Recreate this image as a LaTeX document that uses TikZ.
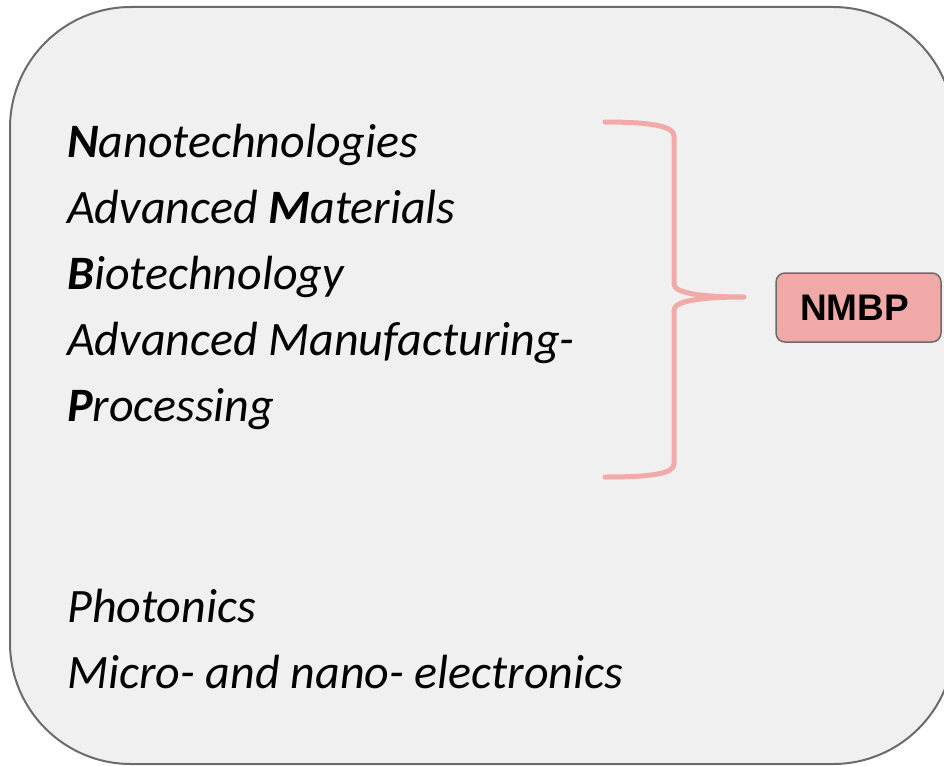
\documentclass[tikz,border=0pt]{standalone}
\usepackage{fontspec}
\setmainfont{Carlito}
\newfontfamily\labelfont{Liberation Sans}
\definecolor{panelfill}{HTML}{F0F0F0}
\definecolor{paneledge}{HTML}{6B6B6B}
\definecolor{bracepink}{HTML}{F2AAA9}
\definecolor{tagfill}{HTML}{F1A9A8}
\begin{document}
\begin{tikzpicture}[x=1pt,y=-1pt,
  item/.style={anchor=base west,inner sep=0pt,font=\fontsize{48}{56}\selectfont\itshape},
  bracestroke/.style={draw=bracepink,line width=5pt,line cap=round,line join=round},
  tagbox/.style={draw=paneledge,line width=1.5pt,fill=tagfill,rounded corners=9pt,
    minimum width=165pt,minimum height=69pt,inner sep=0pt,
    font=\labelfont\bfseries\fontsize{37}{40}\selectfont}]
\useasboundingbox (0,0) rectangle (944,765);
% background panel, running past the right and bottom edges
\draw[fill=panelfill,draw=paneledge,line width=2pt,rounded corners=121pt]
  (10,7) rectangle (954,764);
% list of fields
\node[item] (nano) at (67,157) {\textbf{N}anotechnologies};
\node[item] (mat)  at (67,223) {Advanced \textbf{M}aterials};
\node[item] (bio)  at (67,289) {\textbf{B}iotechnology};
\node[item] (manu) at (67,355) {Advanced Manufacturing-};
\node[item] (proc) at (67,421) {\textbf{P}rocessing};
\node[item] (phot) at (67,622) {Photonics};
\node[item] (micro) at (67,688) {Micro- and nano- electronics};
% curly brace grouping the first block
\coordinate (tip) at (744,297);
\draw[bracestroke] (605,122) .. controls (650,122) and (674,126) .. (674,136)
  -- (674,284) .. controls (674,293) and (700,297) .. (tip)
  .. controls (700,297) and (674,301) .. (674,310)
  -- (674,464) .. controls (674,474) and (650,477) .. (605,477);
% acronym tag
\node[tagbox] (nmbp) at (858.5,307.5) {\hspace*{-8pt}NMBP};
\end{tikzpicture}
\end{document}
